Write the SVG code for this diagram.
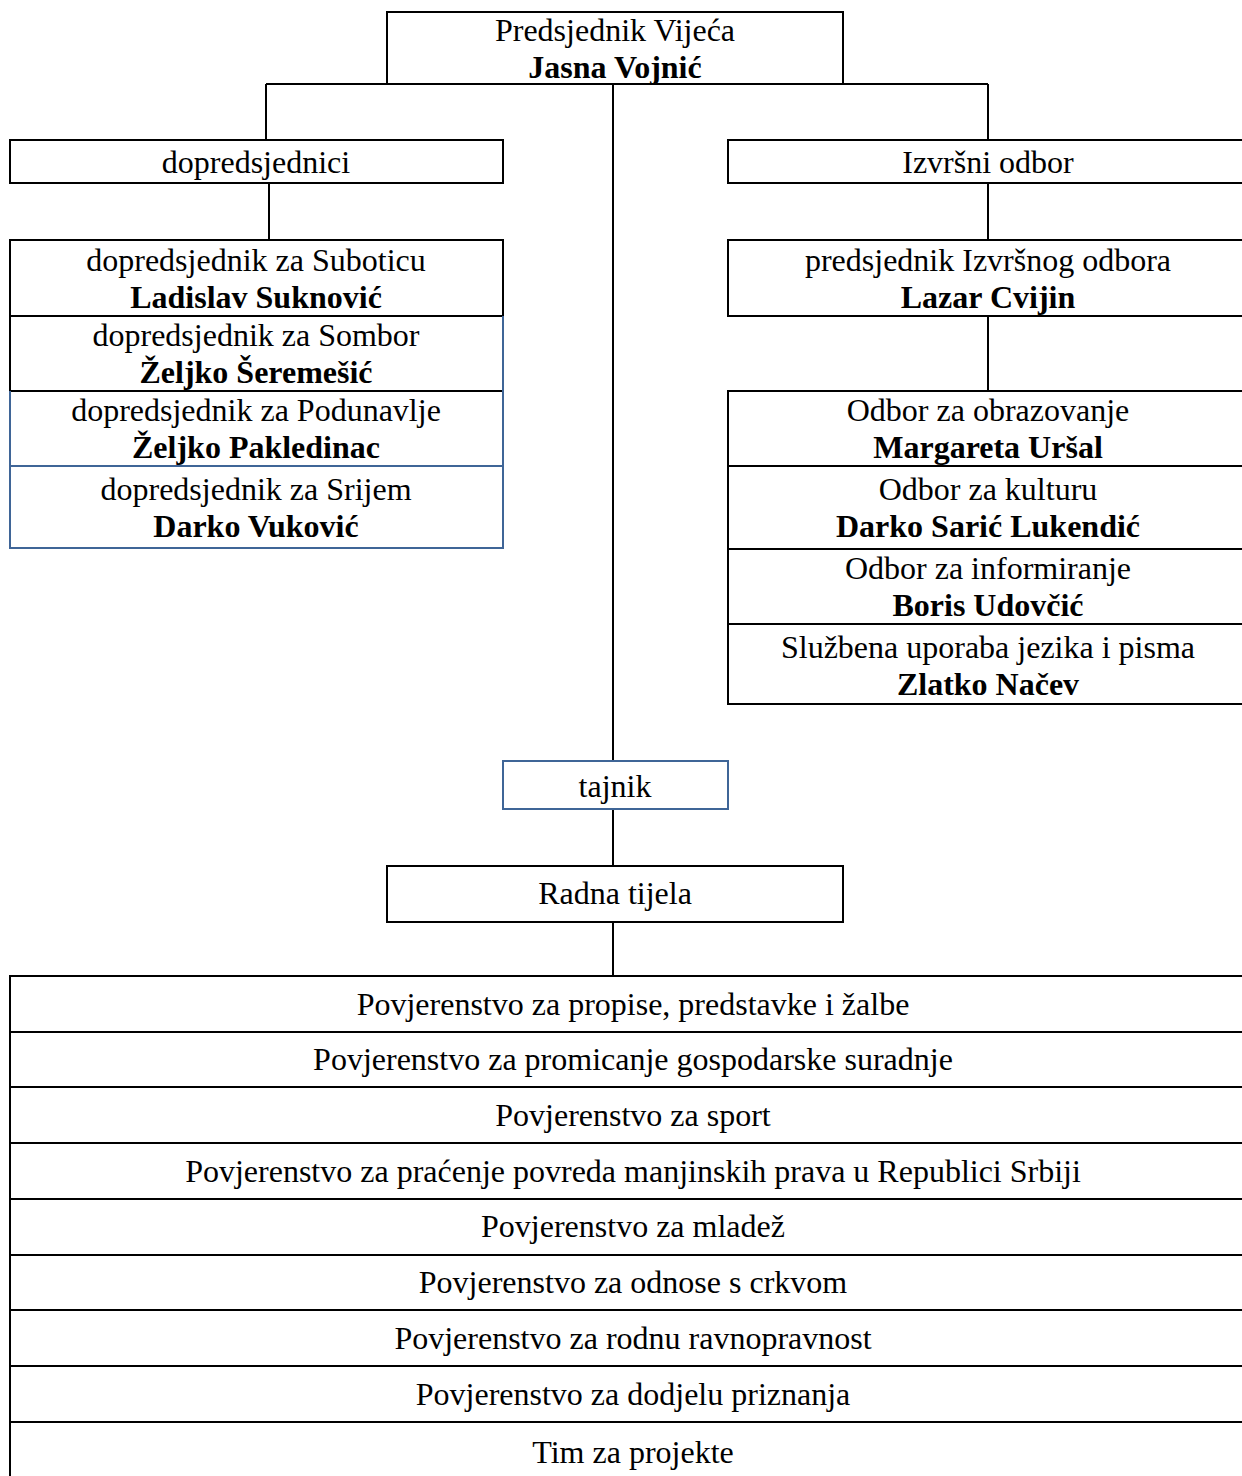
<svg xmlns="http://www.w3.org/2000/svg" width="1242" height="1476" viewBox="0 0 1242 1476">
<style>
  .bx{fill:#fff;stroke:#000;stroke-width:2}
  .bl{fill:none;stroke:#3F6597;stroke-width:2}
  .k{fill:none;stroke:#000;stroke-width:2}
  .ln{stroke:#000;stroke-width:2;fill:none}
  text{font-family:"Liberation Serif","Times New Roman",serif;font-size:32px;fill:#000;text-anchor:middle}
  .b{font-weight:bold}
</style>
<rect x="0" y="0" width="1242" height="1476" fill="#fff"/>

<g id="connectors">
  <path class="ln" d="M613 84V761 M266 84H988 M266 84V140 M269 183V240 M988 84V140 M988 183V240 M988 316V391 M613 809V866 M613 922V976"/>
</g>

<g id="predsjednik">
  <path class="k" d="M387 84V12H843V84"/>
  <text x="615" y="41">Predsjednik Vijeća</text>
  <text class="b" x="615" y="78">Jasna Vojnić</text>
</g>

<g id="dopredsjednici">
  <rect class="bx" x="10" y="140" width="493" height="43"/>
  <text x="256" y="173">dopredsjednici</text>
</g>

<g id="izvrsni-odbor">
  <rect class="bx" x="728" y="140" width="530" height="43"/>
  <text x="988" y="173">Izvršni odbor</text>
</g>

<g id="dop-subotica">
  <rect class="bx" x="10" y="240" width="493" height="76"/>
  <text x="256" y="271">dopredsjednik za Suboticu</text>
  <text class="b" x="256" y="308">Ladislav Suknović</text>
</g>

<g id="dop-sombor">
  <path class="k" d="M503 316H10V391H503"/>
  <path class="bl" d="M503 316V391"/>
  <text x="256" y="346">dopredsjednik za Sombor</text>
  <text class="b" x="256" y="383">Željko Šeremešić</text>
</g>

<g id="dop-podunavlje">
  <path class="bl" d="M10 391V466H503V391"/>
  <text x="256" y="421">dopredsjednik za Podunavlje</text>
  <text class="b" x="256" y="458">Željko Pakledinac</text>
</g>

<g id="dop-srijem">
  <rect class="bl" x="10" y="466" width="493" height="82"/>
  <text x="256" y="500">dopredsjednik za Srijem</text>
  <text class="b" x="256" y="537">Darko Vuković</text>
</g>

<g id="predsjednik-io">
  <rect class="bx" x="728" y="240" width="530" height="76"/>
  <text x="988" y="271">predsjednik Izvršnog odbora</text>
  <text class="b" x="988" y="308">Lazar Cvijin</text>
</g>

<g id="odbor-obrazovanje">
  <rect class="bx" x="728" y="391" width="530" height="75"/>
  <text x="988" y="421">Odbor za obrazovanje</text>
  <text class="b" x="988" y="458">Margareta Uršal</text>
</g>

<g id="odbor-kultura">
  <rect class="bx" x="728" y="466" width="530" height="83"/>
  <text x="988" y="500">Odbor za kulturu</text>
  <text class="b" x="988" y="537">Darko Sarić Lukendić</text>
</g>

<g id="odbor-informiranje">
  <rect class="bx" x="728" y="549" width="530" height="75"/>
  <text x="988" y="579">Odbor za informiranje</text>
  <text class="b" x="988" y="616">Boris Udovčić</text>
</g>

<g id="odbor-jezik">
  <rect class="bx" x="728" y="624" width="530" height="80"/>
  <text x="988" y="658">Službena uporaba jezika i pisma</text>
  <text class="b" x="988" y="695">Zlatko Načev</text>
</g>

<g id="tajnik">
  <rect x="503" y="761" width="225" height="48" fill="#fff" stroke="#3F6597" stroke-width="2"/>
  <text x="615" y="797">tajnik</text>
</g>

<g id="radna-tijela">
  <rect class="bx" x="387" y="866" width="456" height="56"/>
  <text x="615" y="904">Radna tijela</text>
</g>

<g id="pov-propisi">
  <rect class="bx" x="10" y="976" width="1250" height="56"/>
  <text x="633" y="1015">Povjerenstvo za propise, predstavke i žalbe</text>
</g>
<g id="pov-gospodarstvo">
  <rect class="bx" x="10" y="1032" width="1250" height="55"/>
  <text x="633" y="1070">Povjerenstvo za promicanje gospodarske suradnje</text>
</g>
<g id="pov-sport">
  <rect class="bx" x="10" y="1087" width="1250" height="56"/>
  <text x="633" y="1126">Povjerenstvo za sport</text>
</g>
<g id="pov-prava">
  <rect class="bx" x="10" y="1143" width="1250" height="56"/>
  <text x="633" y="1182">Povjerenstvo za praćenje povreda manjinskih prava u Republici Srbiji</text>
</g>
<g id="pov-mladez">
  <rect class="bx" x="10" y="1199" width="1250" height="56"/>
  <text x="633" y="1237">Povjerenstvo za mladež</text>
</g>
<g id="pov-crkva">
  <rect class="bx" x="10" y="1255" width="1250" height="55"/>
  <text x="633" y="1293">Povjerenstvo za odnose s crkvom</text>
</g>
<g id="pov-ravnopravnost">
  <rect class="bx" x="10" y="1310" width="1250" height="56"/>
  <text x="633" y="1349">Povjerenstvo za rodnu ravnopravnost</text>
</g>
<g id="pov-priznanja">
  <rect class="bx" x="10" y="1366" width="1250" height="56"/>
  <text x="633" y="1405">Povjerenstvo za dodjelu priznanja</text>
</g>
<g id="tim-projekti">
  <rect class="bx" x="10" y="1422" width="1250" height="70"/>
  <text x="633" y="1463">Tim za projekte</text>
</g>
</svg>
